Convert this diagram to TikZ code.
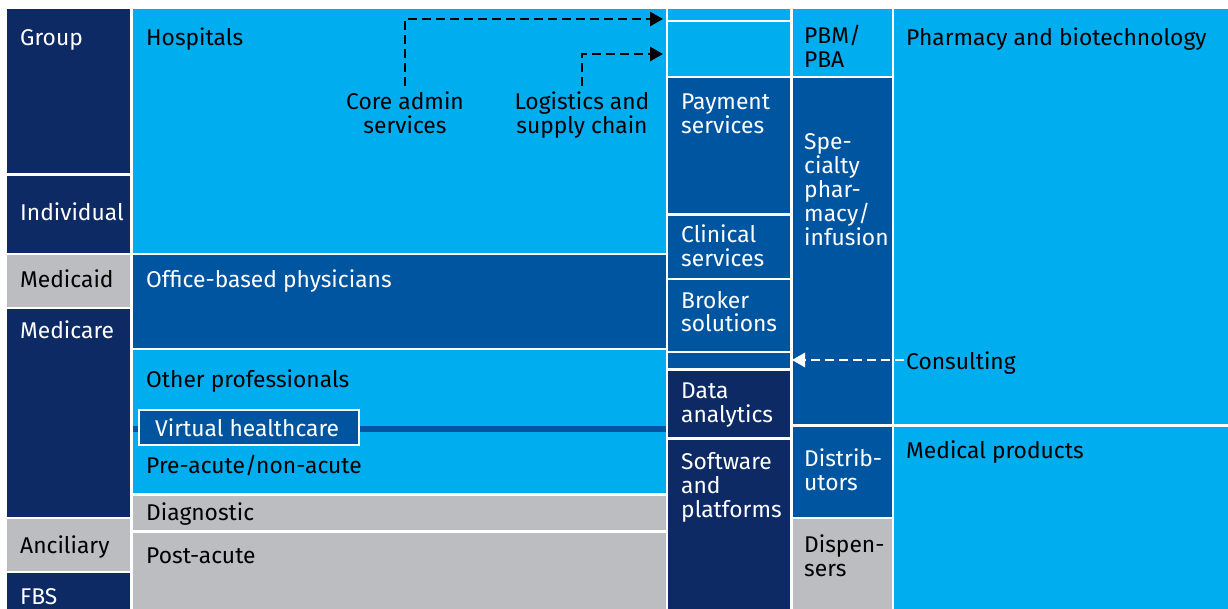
\documentclass[tikz,border=0pt]{standalone}
\usepackage{fontspec}
\setmainfont{Fira Sans}
\usetikzlibrary{arrows.meta}
\definecolor{lb}{HTML}{00ADEF}
\definecolor{mb}{HTML}{0055A1}
\definecolor{nv}{HTML}{0D2A64}
\definecolor{gr}{HTML}{BCBDC0}
\begin{document}
\begin{tikzpicture}[x=1pt,y=-1pt,
  lbl/.style={anchor=base west, inner sep=0pt, font=\fontsize{22.8}{24}\selectfont, align=left},
  wt/.style={lbl, text=white}, bk/.style={lbl, text=black},
  dasharrow/.style={line width=2.8pt, dash pattern=on 9pt off 5pt, -{Triangle[length=13pt,width=14pt]}}]
\useasboundingbox (0,0) rectangle (1228,609);
\fill[white] (0,0) rectangle (1228,609);
% column 1
\fill[nv] (7,9) rectangle (130,173);
\fill[nv] (7,176) rectangle (130,253);
\fill[gr] (7,255) rectangle (130,307);
\fill[nv] (7,309) rectangle (130,517);
\fill[gr] (7,519) rectangle (130,571);
\fill[nv] (7,573) rectangle (130,609);
% column 2
\fill[lb] (133,9) rectangle (666,253);
\fill[mb] (133,255) rectangle (666,348);
\fill[lb] (133,350) rectangle (666,493);
\fill[gr] (133,496) rectangle (666,530);
\fill[gr] (133,533) rectangle (666,609);
\fill[mb] (133,426) rectangle (666,432);
\filldraw[fill=mb, draw=white, line width=1.2pt] (139,410) rectangle (359,445);
% column 3
\fill[lb] (668,9) rectangle (790,20);
\fill[lb] (668,22) rectangle (790,76);
\fill[mb] (668,78) rectangle (790,213);
\fill[mb] (668,216) rectangle (790,278);
\fill[mb] (668,280) rectangle (790,351);
\fill[mb] (668,353) rectangle (790,368);
\fill[nv] (668,371) rectangle (790,437);
\fill[nv] (668,440) rectangle (790,609);
% column 4
\fill[lb] (793,9) rectangle (892,76);
\fill[mb] (793,78) rectangle (892,424);
\fill[mb] (793,427) rectangle (892,517);
\fill[gr] (793,519) rectangle (892,609);
% column 5
\fill[lb] (894,9) rectangle (1228,424);
\fill[lb] (894,427) rectangle (1228,609);
% labels
\node[wt] (group) at (20,46) {Group};
\node[wt] (indiv) at (20,221) {Individual};
\node[bk] (medicaid) at (20,288) {Medicaid};
\node[wt] (medicare) at (20,338) {Medicare};
\node[bk] (ancil) at (20,553) {Anciliary};
\node[wt] (fbs) at (20,604) {FBS};
\node[bk] (hosp) at (146,46) {Hospitals};
\node[wt] (office) at (146,288) {Office-based physicians};
\node[bk] (otherp) at (146,387) {Other professionals};
\node[wt] (virtual) at (155,436) {Virtual healthcare};
\node[bk] (preac) at (146,473) {Pre-acute/non-acute};
\node[bk] (diag) at (146,520) {Diagnostic};
\node[bk] (postac) at (146,563) {Post-acute};
\node[wt] (pay) at (681,134) {Payment\\services};
\node[wt] (clin) at (681,267) {Clinical\\services};
\node[wt] (broker) at (681,332) {Broker\\solutions};
\node[wt] (data) at (681,422) {Data\\analytics};
\node[wt] (soft) at (681,517) {Software\\and\\platforms};
\node[bk] (pbm) at (804,68) {PBM/\\PBA};
\node[wt] (spec) at (804,246) {Spe-\\cialty\\phar-\\macy/\\infusion};
\node[wt] (distr) at (804,490) {Distrib-\\utors};
\node[bk] (disp) at (804,576) {Dispen-\\sers};
\node[bk] (pharma) at (906,46) {Pharmacy and biotechnology};
\node[bk] (medprod) at (906,458) {Medical products};
\node[bk] (cons) at (906,369) {Consulting};
\node[bk, anchor=base, align=center] (core) at (405,134) {Core admin\\services};
\node[bk, anchor=base, align=center] (logi) at (582,134) {Logistics and\\supply chain};
% connectors
\coordinate (t1) at (663,19);
\coordinate (t2) at (663,54);
\coordinate (t3) at (792,360);
\draw[dasharrow] ([yshift=6pt]core.north) |- (t1);
\draw[dasharrow] ([yshift=6pt]logi.north) |- (t2);
\draw[dasharrow, white, -{Triangle[length=13pt,width=14pt,fill=white]}] ([xshift=-2pt]cons.west |- t3) -- (t3);
\end{tikzpicture}
\end{document}
